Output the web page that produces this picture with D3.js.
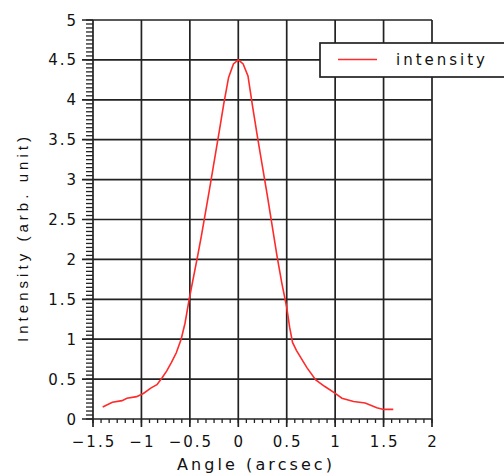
<!DOCTYPE html>
<html>
<head>
<meta charset="utf-8">
<script src="https://cdn.jsdelivr.net/npm/d3@7"></script>
<style>
  body { margin: 0; background: #fff; }
  svg { display: block; }
  .tick-label { font-family: "DejaVu Sans", sans-serif; font-size: 15px; letter-spacing: 2px; fill: #111; }
</style>
</head>
<body>
<svg id="chart" width="504" height="474"></svg>
<script>
// Data
const angle = [-1.40, -1.30, -1.20, -1.15, -1.05, -0.98, -0.90, -0.84, -0.79, -0.74, -0.69, -0.64, -0.59, -0.55,
  -0.51, -0.47, -0.42, -0.38, -0.34, -0.30, -0.25, -0.20, -0.15, -0.10, -0.05, 0.00,
  0.05, 0.10, 0.15, 0.20, 0.25, 0.30, 0.35, 0.40, 0.45, 0.50, 0.53, 0.56, 0.60, 0.65,
  0.71, 0.80, 0.89, 0.99, 1.07, 1.19, 1.31, 1.43, 1.50, 1.60];
const intensity = [0.15, 0.21, 0.23, 0.26, 0.28, 0.32, 0.39, 0.43, 0.51, 0.60, 0.71, 0.83, 1.00, 1.20,
  1.48, 1.73, 2.04, 2.30, 2.58, 2.86, 3.22, 3.58, 3.95, 4.28, 4.45, 4.50,
  4.45, 4.30, 3.90, 3.52, 3.16, 2.80, 2.42, 2.04, 1.70, 1.40, 1.15, 0.96, 0.86, 0.76,
  0.64, 0.49, 0.41, 0.33, 0.26, 0.22, 0.20, 0.14, 0.12, 0.12];
const xTicks = [-1.5, -1, -0.5, 0, 0.5, 1, 1.5, 2];
const yTicks = [0, 0.5, 1, 1.5, 2, 2.5, 3, 3.5, 4, 4.5, 5];
const seriesName = 'intensity';

const svg = d3.select('#chart');
const m = { left: 93, right: 432, top: 20, bottom: 419 };

const x = d3.scaleLinear().domain([-1.5, 2]).range([m.left, m.right]);
const y = d3.scaleLinear().domain([0, 5]).range([m.bottom, m.top]);

const fmt = v => String(v).replace('-', '\u2212');
const gridColor = '#222';

// minor ticks
const xMinor = d3.range(-1.5, 2.0001, 0.5 / 6);
const yMinor = d3.range(0, 5.0001, 0.05);

const g = svg.append('g');

g.selectAll('.xminor').data(xMinor).enter().append('line')
  .attr('x1', d => x(d)).attr('x2', d => x(d))
  .attr('y1', m.bottom).attr('y2', m.bottom + 4)
  .attr('stroke', gridColor).attr('stroke-width', 1.3);

g.selectAll('.yminor').data(yMinor).enter().append('line')
  .attr('x1', m.left - 7).attr('x2', m.left)
  .attr('y1', d => y(d)).attr('y2', d => y(d))
  .attr('stroke', gridColor).attr('stroke-width', 1.3);

// grid + major ticks
g.selectAll('.vgrid').data(xTicks).enter().append('line')
  .attr('x1', d => x(d)).attr('x2', d => x(d))
  .attr('y1', m.top).attr('y2', m.bottom + 8)
  .attr('stroke', gridColor).attr('stroke-width', 1.7);

g.selectAll('.hgrid').data(yTicks).enter().append('line')
  .attr('x1', m.left - 11).attr('x2', m.right)
  .attr('y1', d => y(d)).attr('y2', d => y(d))
  .attr('stroke', gridColor).attr('stroke-width', 1.7);

// tick labels
g.selectAll('.xlab').data(xTicks).enter().append('text')
  .attr('class', 'tick-label')
  .attr('x', d => x(d) + 1).attr('y', 447)
  .attr('text-anchor', 'middle')
  .text(fmt);

g.selectAll('.ylab').data(yTicks).enter().append('text')
  .attr('class', 'tick-label')
  .attr('x', 78).attr('y', d => y(d) + 5.5)
  .attr('text-anchor', 'end')
  .text(fmt);

// axis titles
svg.append('text')
  .attr('x', 177).attr('y', 470)
  .attr('textLength', 155).attr('lengthAdjust', 'spacing')
  .style('font-family', 'DejaVu Sans, sans-serif').style('font-size', '16px').attr('fill', '#111')
  .text('Angle (arcsec)');

svg.append('text')
  .attr('transform', 'translate(28,342) rotate(-90)')
  .attr('textLength', 205).attr('lengthAdjust', 'spacing')
  .style('font-family', 'Liberation Sans, sans-serif').style('font-size', '15px').attr('fill', '#111')
  .text('Intensity (arb. unit)');

// curve
const line = d3.line().x((d, i) => x(angle[i])).y(d => y(d));
svg.append('path')
  .datum(intensity)
  .attr('d', line)
  .attr('fill', 'none')
  .attr('stroke', '#ff2a2a')
  .attr('stroke-width', 1.6);

// legend
const leg = svg.append('g');
leg.append('rect')
  .attr('x', 320).attr('y', 43).attr('width', 200).attr('height', 34)
  .attr('fill', '#fff').attr('stroke', gridColor).attr('stroke-width', 1.7);
leg.append('line')
  .attr('x1', 338).attr('x2', 377).attr('y1', 59.5).attr('y2', 59.5)
  .attr('stroke', '#ff2a2a').attr('stroke-width', 1.6);
leg.append('text')
  .attr('x', 396).attr('y', 65)
  .attr('textLength', 89).attr('lengthAdjust', 'spacing')
  .style('font-family', 'DejaVu Sans, sans-serif').style('font-size', '15px').attr('fill', '#111')
  .text(seriesName);
</script>
</body>
</html>
